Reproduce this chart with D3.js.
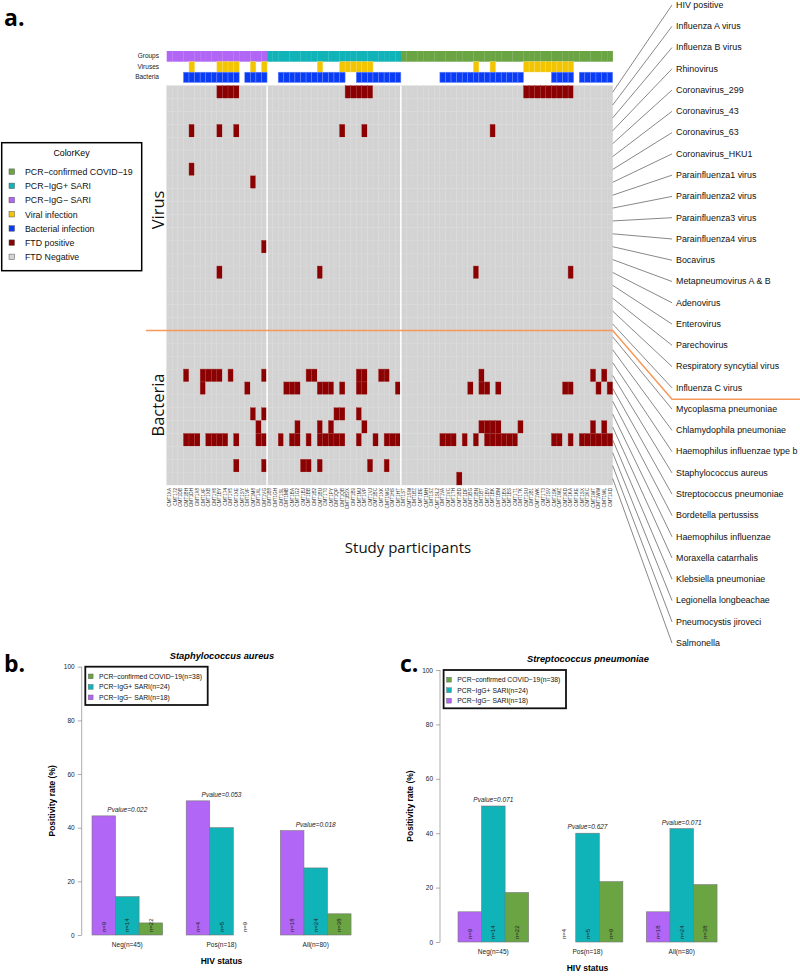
<!DOCTYPE html>
<html><head><meta charset="utf-8">
<script src="https://cdn.jsdelivr.net/npm/d3@7"></script>
<style>body{margin:0;background:#fff} svg{display:block} text{font-family:"Liberation Sans",Arial,sans-serif}</style>
</head><body>
<svg id="c" width="800" height="976"></svg>
<script>
// ---------- DATA ----------
const groupNames = ["PCR−IgG− SARI", "PCR−IgG+ SARI", "PCR−confirmed COVID−19"];
const groupSizes = [18, 24, 38];
const participants = [
"CMT1XA","CMT172","CMT1DB","CMT1BH","CMT1DH","CMT1X8","CMT1XF","CMT1XB","CMT1Y6","CMT1BY",
"CMT174","CMT1Y5","CMT1XE","CMT1SY","CMT1VF","CMT1M8","CMT1XL","CMT1VG","CMT1B8","CMT1GH",
"CMT1SL","CMT1MB","CMT1BA","CMT1G2","CMT1BJ","CMT1BB","CMT1B2","CMT1BU","CMT1T0","CMT1PY",
"CMT1QP","CMT1QB","CMT1B2X","CMT1B9","CMT1MJ","CMT1VP","CMT1VJ","CMT1BC","CMT1XK","CMT1WG",
"CMT1HS","CMT1HT","CMT1ST","CMT1SW","CMT1BZ","CMT1BE","CMT1MH","CMT1SZ","CMT1SL2","CMT1VA",
"CMT1VC","CMT1TH","CMT1BD","CMT1DF","CMT1BG","CMT1BN","CMT1BT","CMT1BV","CMT1BK","CMT1BM",
"CMT1BX","CMT1BS","CMT1T1","CMT1TK","CMT1SU","CMT1B1","CMT1WK","CMT1T3","CMT1SV","CMT1SK",
"CMT1WZ","CMT1KD","CMT1KA","CMT1KE","CMT1SX","CMT1KC","CMT1WT","CMT1WW","CMT1WL","CMT1XD"];
const viralCols = [4,9,10,11,12,15,17,27,31,32,33,34,35,36,55,58,64,65,66,67,68,69,70,71,72];
const bacterialCols = [3,4,5,6,7,8,9,10,11,12,14,15,16,17,20,21,22,23,24,25,26,27,28,29,30,31,
  34,35,36,37,38,39,40,41,49,50,51,52,53,54,55,56,57,58,59,60,61,62,63,69,70,71,72,74,75,76,77,78,79];
const rowLabels = ["HIV positive","Influenza A virus","Influenza B virus","Rhinovirus","Coronavirus_299",
  "Coronavirus_43","Coronavirus_63","Coronavirus_HKU1","Parainfluenza1 virus","Parainfluenza2 virus",
  "Parainfluenza3 virus","Parainfluenza4 virus","Bocavirus","Metapneumovirus A & B","Adenovirus",
  "Enterovirus","Parechovirus","Respiratory syncytial virus","Influenza C virus",
  "Mycoplasma pneumoniae","Chlamydophila pneumoniae","Haemophilus influenzae type b","Staphylococcus aureus",
  "Streptococcus pneumoniae","Bordetella pertussiss","Haemophilus influenzae","Moraxella catarrhalis",
  "Klebsiella pneumoniae","Legionella longbeachae","Pneumocystis jiroveci","Salmonella"];
const nVirusRows = 19;
// positive columns per row (index into participants)
const positives = [
  [9,10,11,12,32,33,34,35,36,64,65,66,67,68,69,70,71,72],
  [],[],
  [4,9,12,31,35,58],
  [],[],
  [4],
  [15],
  [],[],[],[],
  [17],
  [],
  [9,27,55,72],
  [],[],[],[],
  [],[],[],
  [3,6,7,8,9,11,17,25,26,34,35,38,39,56,76,78],
  [6,14,21,22,23,27,28,29,31,34,35,41,54,56,57,59,71,72,77,79],
  [],
  [15,17,30,31,34],
  [16,23,27,29,35,56,57,58,59,63,76,78],
  [3,4,5,7,8,9,10,12,16,17,20,22,23,25,27,28,29,30,31,34,37,39,40,41,49,50,51,53,55,57,58,59,60,61,62,69,70,72,74,75,76,77,78,79],
  [],
  [12,17,24,25,27,36,39],
  [52]
];
const legendLabels = ["PCR−confirmed COVID−19","PCR−IgG+ SARI","PCR−IgG− SARI","Viral infection","Bacterial infection","FTD positive","FTD Negative"];

const hivCategories = ["Neg(n=45)","Pos(n=18)","All(n=80)"];
const barSeries = ["PCR−IgG− SARI","PCR−IgG+ SARI","PCR−confirmed COVID−19"];
const barLegend = ["PCR−confirmed COVID−19(n=38)","PCR−IgG+ SARI(n=24)","PCR−IgG− SARI(n=18)"];
const barN = [["n=9","n=4","n=18"],["n=14","n=5","n=24"],["n=22","n=9","n=38"]];
const staphRates = [[44.4,50,38.9],[14.3,40,25],[4.5,0,7.9]];
const staphP = ["Pvalue=0.022","Pvalue=0.053","Pvalue=0.018"];
const strepRates = [[11.1,0,11.1],[50,40,41.7],[18.2,22.2,21.1]];
const strepP = ["Pvalue=0.071","Pvalue=0.627","Pvalue=0.071"];
const yTicks = [0,20,40,60,80,100];

// ---------- STYLE ----------
const C = {covid:"#6aa443", pos:"#10b3b8", neg:"#b266f5", viral:"#f2c500", bact:"#0a3cf5", ftd:"#8b0000", neg0:"#d3d3d3"};
const groupColors = [C.neg, C.pos, C.covid];

const svg = d3.select("#c");

// ---------- HEATMAP ----------
const HX0 = 166.7, HX1 = 612.7, HY0 = 85.7, HY1 = 485;
const x = d3.scaleBand().domain(d3.range(participants.length)).range([HX0, HX1]);
const y = d3.scaleBand().domain(d3.range(rowLabels.length)).range([HY0, HY1]);
const groupOf = [];
groupSizes.forEach((n,g)=>{ for(let i=0;i<n;i++) groupOf.push(g); });

svg.append("text").attr("x",4).attr("y",26).attr("font-size",23).attr("font-weight","bold")
  .style("font-family","'Open Sans',sans-serif").text("a.");

// annotation rows
const ann = svg.append("g");
ann.selectAll("rect.g").data(d3.range(participants.length)).join("rect")
  .attr("x",d=>x(d)).attr("y",51).attr("width",x.bandwidth()+0.2).attr("height",10.7)
  .attr("fill",d=>groupColors[groupOf[d]]);
ann.selectAll("rect.v").data(viralCols).join("rect")
  .attr("x",d=>x(d)).attr("y",61.7).attr("width",x.bandwidth()).attr("height",10.3)
  .attr("fill",C.viral).attr("stroke","#f7dc6a").attr("stroke-width",0.4);
ann.selectAll("rect.b").data(bacterialCols).join("rect")
  .attr("x",d=>x(d)).attr("y",72.2).attr("width",x.bandwidth()).attr("height",10.3)
  .attr("fill",C.bact).attr("stroke","#6d8cff").attr("stroke-width",0.5);
[["Groups",58],["Viruses",68.5],["Bacteria",79]].forEach(([t,yy])=>{
  ann.append("text").attr("x",159).attr("y",yy).attr("text-anchor","end").attr("font-size",6.5).attr("fill","#222").text(t);
});

// cells
const posSet = new Set();
positives.forEach((cols,r)=>cols.forEach(c=>posSet.add(r+"_"+c)));
const cells = [];
rowLabels.forEach((_,r)=>participants.forEach((_,c)=>cells.push({r,c,p:posSet.has(r+"_"+c)})));
svg.append("g").selectAll("rect").data(cells).join("rect")
  .attr("x",d=>x(d.c)).attr("y",d=>y(d.r)).attr("width",x.bandwidth()).attr("height",y.bandwidth())
  .attr("fill",d=>d.p?C.ftd:C.neg0).attr("stroke",d=>d.p?"#a83a3a":"#d9d9d9").attr("stroke-width",0.4);

// group separators
let acc = 0;
groupSizes.slice(0,-1).forEach(n=>{ acc+=n;
  svg.append("line").attr("x1",x(acc)).attr("x2",x(acc)).attr("y1",HY0).attr("y2",HY1)
    .attr("stroke","#fff").attr("stroke-width",1.5);
});

// column labels
svg.append("g").selectAll("text").data(participants).join("text")
  .attr("transform",(d,i)=>`translate(${x(i)+x.bandwidth()/2+1.6},488) rotate(-90)`)
  .attr("text-anchor","end").attr("font-size",4.6).attr("fill","#333").text(d=>d);

svg.append("text").attr("x",408).attr("y",553).attr("text-anchor","middle").attr("font-size",15)
  .style("font-family","'Open Sans',sans-serif").attr("fill","#111").text("Study participants");
svg.append("text").attr("transform","translate(164,210) rotate(-90)").attr("text-anchor","middle")
  .attr("font-size",16.5).style("font-family","'Open Sans',sans-serif").attr("fill","#111").text("Virus");
svg.append("text").attr("transform","translate(164,405) rotate(-90)").attr("text-anchor","middle")
  .attr("font-size",16.5).style("font-family","'Open Sans',sans-serif").attr("fill","#111").text("Bacteria");

// row labels with leader lines
const LX = 676, LY0 = 4, LDY = 21.27;
rowLabels.forEach((t,i)=>{
  const ly = LY0 + i*LDY;
  svg.append("line").attr("x1",HX1).attr("y1",y(i)+y.bandwidth()/2).attr("x2",LX-4).attr("y2",ly+1)
    .attr("stroke","#555").attr("stroke-width",0.7);
  svg.append("text").attr("x",LX).attr("y",ly+3.8).attr("font-size",8.9).attr("fill","#111").text(t);
});

// orange divider
const dividerY = y(nVirusRows);
svg.append("path").attr("d",`M146,${dividerY}H${HX1}L672,${LY0+nVirusRows*LDY-9}H800`)
  .attr("fill","none").attr("stroke","#f4995a").attr("stroke-width",1.5);

// color key
const lg = svg.append("g");
lg.append("rect").attr("x",1.7).attr("y",142.7).attr("width",140).attr("height",128).attr("fill","#fff")
  .attr("stroke","#000").attr("stroke-width",1.5);
lg.append("text").attr("x",71.5).attr("y",156).attr("text-anchor","middle").attr("font-size",8.8).text("ColorKey");
const keyColors = [C.covid,C.pos,C.neg,C.viral,C.bact,C.ftd,C.neg0];
legendLabels.forEach((t,i)=>{
  const yy = 171.7 + i*14.2;
  lg.append("rect").attr("x",9).attr("y",yy-2.8).attr("width",5.5).attr("height",5.5).attr("fill",keyColors[i])
    .attr("stroke","#555").attr("stroke-width",0.5);
  lg.append("text").attr("x",25).attr("y",yy+3.3).attr("font-size",8.8).attr("fill","#111").text(t);
});

// ---------- BAR PANELS ----------
function barPanel(o){
  const g = svg.append("g");
  const ys = d3.scaleLinear().domain([0,100]).range([o.y0,o.y100]);
  const xg = d3.scaleBand().domain(hivCategories).range([o.xStart, o.xStart + 2.75*o.groupW]).paddingInner(0.25).paddingOuter(0);
  const xb = d3.scaleBand().domain(barSeries).range([0,xg.bandwidth()]);
  g.append("text").attr("x",o.letterX).attr("y",672).attr("font-size",23).attr("font-weight","bold")
    .style("font-family","'Open Sans',sans-serif").text(o.letter);
  g.append("text").attr("x",o.titleX).attr("y",o.titleY).attr("text-anchor","middle").attr("font-size",9.3)
    .attr("font-weight","bold").attr("font-style","italic").text(o.title);
  const ax = g.append("g").attr("transform",`translate(${o.axisX},0)`)
    .call(d3.axisLeft(ys).tickValues(yTicks).tickSize(4).tickPadding(3));
  ax.select(".domain").attr("stroke","#777").attr("stroke-width",0.6).attr("d",`M0,${o.y0}V${o.y100}`);
  ax.selectAll(".tick line").attr("stroke","#777").attr("stroke-width",0.6);
  ax.selectAll(".tick text").attr("font-size",6.5).attr("fill","#222").style("font-family","'Liberation Sans',Arial,sans-serif");
  g.append("text").attr("transform",`translate(${o.axisX-27},${(o.y0+o.y100)/2}) rotate(-90)`).attr("text-anchor","middle")
    .attr("font-size",8.5).attr("font-weight","bold").text("Positivity rate (%)");
  const data = [];
  barSeries.forEach((s,si)=>hivCategories.forEach((c,ci)=>data.push({s,si,c,ci,v:o.rates[si][ci],n:barN[si][ci]})));
  g.selectAll("rect.bar").data(data).join("rect")
    .attr("x",d=>xg(d.c)+xb(d.s)).attr("y",d=>ys(d.v)).attr("width",xb.bandwidth()).attr("height",d=>o.y0-ys(d.v))
    .attr("fill",d=>groupColors[d.si]).attr("stroke","#777").attr("stroke-width",0.6);
  g.selectAll("text.n").data(data).join("text")
    .attr("transform",d=>`translate(${xg(d.c)+xb(d.s)+xb.bandwidth()/2+2},${o.y0-3}) rotate(-90)`)
    .attr("font-size",6).attr("fill","#222").text(d=>d.n);
  hivCategories.forEach((c,ci)=>{
    const top = d3.max(barSeries,(s,si)=>o.rates[si][ci]);
    const cx = xg(c)+xg.bandwidth()/2;
    g.append("text").attr("x",cx).attr("y",ys(top)-4).attr("text-anchor","middle").attr("font-size",6.5)
      .attr("font-style","italic").attr("fill","#222").text(o.pvals[ci]);
    g.append("text").attr("x",cx).attr("y",o.y0+12).attr("text-anchor","middle").attr("font-size",6.5)
      .attr("fill","#222").text(c);
  });
  g.append("text").attr("x",xg(hivCategories[1])+xg.bandwidth()/2).attr("y",o.y0+29).attr("text-anchor","middle")
    .attr("font-size",8.5).attr("font-weight","bold").text("HIV status");
  // legend
  const lgx = o.axisX+3.6, lgy = o.y100;
  g.append("rect").attr("x",lgx).attr("y",lgy).attr("width",122.4).attr("height",38.3).attr("fill","#fff")
    .attr("stroke","#111").attr("stroke-width",1.8);
  const lc = [C.covid,C.pos,C.neg];
  barLegend.forEach((t,i)=>{
    const yy = lgy + 9.8 + i*10.5;
    g.append("rect").attr("x",lgx+3).attr("y",yy-2.5).attr("width",4.8).attr("height",4.8).attr("fill",lc[i]).attr("stroke","#555").attr("stroke-width",0.4);
    g.append("text").attr("x",lgx+13.7).attr("y",yy+2.4).attr("font-size",6.8).attr("fill","#111").text(t);
  });
}
barPanel({letter:"b.",letterX:4,title:"Staphylococcus aureus",titleX:222,titleY:659,axisX:81.7,y0:935,y100:666.7,
  xStart:92,groupW:94.2,rates:staphRates,pvals:staphP});
barPanel({letter:"c.",letterX:400,title:"Streptococcus pneumoniae",titleX:588,titleY:662,axisX:440,y0:942,y100:670,
  xStart:458,groupW:94.2,rates:strepRates,pvals:strepP});
</script>
</body></html>
